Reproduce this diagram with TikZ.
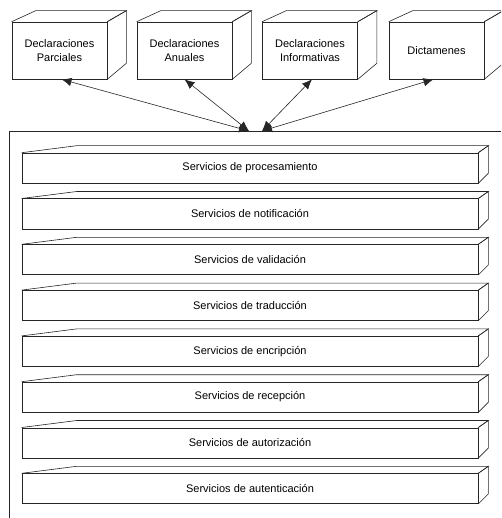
\documentclass[tikz,border=0pt]{standalone}
\usepackage{fontspec}
\setmainfont{Liberation Sans}
\usetikzlibrary{arrows.meta,calc}
\begin{document}
\begin{tikzpicture}[x=1pt,y=-1pt,
  edge/.style={line width=0.6pt, draw=black!85},
  cube/.style={edge, rectangle, minimum width=95pt, minimum height=57pt,
    align=center, inner sep=0pt, font=\fontsize{11}{13.5}\selectfont},
  slab/.style={edge, rectangle, minimum width=456pt, minimum height=30pt,
    inner sep=0pt, font=\fontsize{11}{13}\selectfont},
  link/.style={edge, {Latex[length=10pt,width=8.5pt]}-{Latex[length=10pt,width=8.5pt]}}
]
\useasboundingbox (0,0) rectangle (501,518);
\clip (0,0) rectangle (501,518);

% declaration sources, drawn as boxes in perspective
\node[cube] (b1) at (59.5,50.5)  {Declaraciones\\Parciales};
\node[cube] (b2) at (184.5,50.5) {Declaraciones\\Anuales};
\node[cube] (b3) at (310,50.5)   {Declaraciones\\Informativas};
\node[cube] (b4) at (436.5,50.5) {Dictamenes};
\foreach \n in {b1,b2,b3,b4} {
  \draw[edge] (\n.north west) -- ++(24,-11) -- ($(\n.north east)+(19,-11)$) -- (\n.north east);
  \draw[edge] (\n.north east) -- ++(19,-11) -- ($(\n.south east)+(19,-16)$) -- (\n.south east);
}

% service layer container (open on the right and bottom)
\coordinate (frameTL) at (9,131);
\coordinate (frameTR) at (501,131);
\coordinate (frameBL) at (9,518);
\draw[edge] (frameTR) -- (frameTL) -- (frameBL);

% stacked service slabs
\foreach \i/\t in {1/procesamiento, 2/notificación, 3/validación, 4/traducción,
                   5/encripción, 6/recepción, 7/autorización, 8/autenticación} {
  \node[slab] (s\i) at (250,{168+(\i-1)*45.8}) {Servicios de \t};
  \draw[edge] (s\i.north west) -- ++(55,-7) -- ($(s\i.north east)+(10,-7)$) -- (s\i.north east);
  \draw[edge] (s\i.north east) -- ++(10,-7) -- ($(s\i.south east)+(10,-10)$) -- (s\i.south east);
}

% links between the sources and the service layer
\coordinate (hubL) at (249,131);
\coordinate (hubR) at (262,131);
\draw[link] ($(b1.south)+(2,0)$) -- (hubL);
\draw[link] (b2.south) -- (hubL);
\draw[link] ($(b3.south)+(2,0)$) -- (hubR);
\draw[link] ($(b4.south)+(-3,0)$) -- (hubR);
\end{tikzpicture}
\end{document}
